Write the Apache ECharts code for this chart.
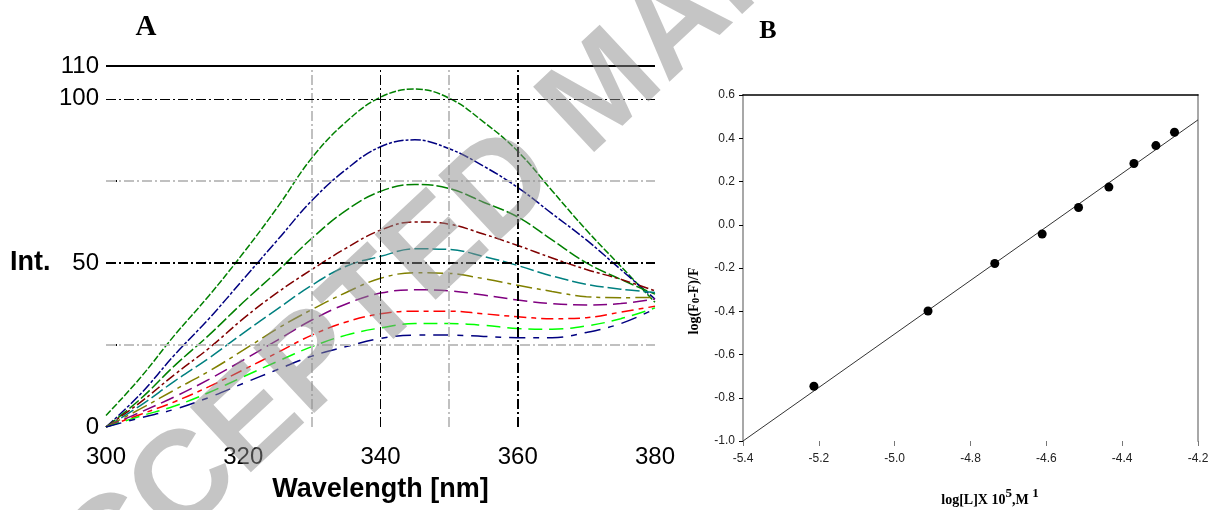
<!DOCTYPE html>
<html><head><meta charset="utf-8">
<script src="https://cdn.jsdelivr.net/npm/echarts@6/dist/echarts.min.js"></script>
<style>html,body{margin:0;padding:0;background:#fff}#c{width:1221px;height:510px}</style>
</head><body><div id="c"></div><script>
// ---- Panel A data: emission spectra ----
const wavelengths = [300,305,310,315,320,325,330,335,340,345,350,355,360,365,370,375,380];
const spec1  = [3.5,15,28,40,53,67,82,93,100.5,103,100.2,93,84,72,60,49,38];
const spec2  = [0,10,22,33,45,57,69,78.5,85.4,87.5,84.8,79.5,73,65,57,48,39];
const spec3  = [0,8.5,18.7,28,38,47.5,57.5,66,71.8,73.9,72.7,68.5,64,57,50,45,40.5];
const spec4  = [0,7.5,16,24,33,41,48,54.5,60,62.5,61.8,58.8,55.3,51.5,48,45,41.5];
const spec5  = [0,6.5,14,21,28.6,36,43.2,49,52,54.3,54.1,52,49.2,46,43.5,42,41];
const spec6  = [0,5.5,11.3,17,23.4,30,35.8,41,45.3,47,46.8,45.2,43.2,41.3,39.7,39.4,39.5];
const spec7  = [0,4.5,9.2,14.5,20.4,26.5,32.6,37.5,40.8,41.8,41.5,40.2,38.7,37.6,37.2,37.6,39];
const spec8  = [0,3.8,7.7,12.3,17.4,22.7,28,32,34.5,35.3,35.3,34.5,33.6,33,33.3,35,36.8];
const spec9  = [0,3.3,6.4,10.5,15.3,20,24.5,28,30.2,31.5,31.5,31,30,29.8,30.8,33,36.3];
const spec10 = [0,2.8,5.4,9,13.3,17.5,21.6,24.5,27,28,28,27.6,27.2,27.2,28.8,31.5,36];
const spectra = [spec1,spec2,spec3,spec4,spec5,spec6,spec7,spec8,spec9,spec10];
const specColors = ['#008000','#000080','#008000','#800000','#008080','#808000','#800080','#ff0000','#00ff00','#000080'];
const specDash = [[7,2],[10,2,3,2],[12,3],[10,3,3,3],[14,4],[16,5,4,5],[14,6],[12,5,5,5],[14,7],[16,8,6,8]];
const xLabelsA = [300,320,340,360,380];
const yLabelsA = [0,50,100,110];
const xMinorTicksA = [330,350];
const yMinorTicksA = [25,75];
const vGridMajor = [340,360];
const vGridMinor = [330,350];
const hGridMajor = [100,50];
const hGridMinor = [75,25];
const topLineA = 110;

// ---- Panel B data: double log plot ----
const logL = [-5.213,-4.912,-4.736,-4.611,-4.515,-4.435,-4.369,-4.311,-4.262];
const logF = [-0.747,-0.399,-0.179,-0.043,0.080,0.174,0.283,0.366,0.428];
const fitX = [-5.4,-4.2];
const fitY = [-1.0,0.485];

const chart = echarts.init(document.getElementById('c'));
const sans = 'Liberation Sans, Arial, sans-serif';
const serif = 'Liberation Serif, Times New Roman, serif';

const gridLineData = [];
vGridMajor.forEach((v,i)=>gridLineData.push({xAxis:v, lineStyle:{color:'#000', width:i===1?2:1, type:[10,3,2,3]}}));
vGridMinor.forEach(v=>gridLineData.push({xAxis:v, lineStyle:{color:'#c0c0c0', width:2, type:[10,3,2,3]}}));
hGridMajor.forEach((v,i)=>gridLineData.push({yAxis:v, lineStyle:{color:'#000', width:i===1?2:1, type:[10,3,2,3]}}));
hGridMinor.forEach(v=>gridLineData.push({yAxis:v, lineStyle:{color:'#c0c0c0', width:2, type:[10,3,2,3]}}));
gridLineData.push({yAxis:topLineA, lineStyle:{color:'#000', width:2, type:'solid'}});

const series = [{
  type:'line', xAxisIndex:0, yAxisIndex:0, data:[], z:1, silent:true,
  markLine:{silent:true, symbol:['none','none'], label:{show:false}, animation:false, data:gridLineData}
}];
spectra.forEach((s,k)=>{
  series.push({
    type:'line', xAxisIndex:0, yAxisIndex:0, z:3, smooth:0.4, showSymbol:false,
    data: wavelengths.map((w,i)=>[w,s[i]]),
    lineStyle:{color:specColors[k], width:1.5, type:specDash[k]}
  });
});
series.push({
  type:'line', xAxisIndex:1, yAxisIndex:1, showSymbol:false, z:2,
  data: fitX.map((x,i)=>[x,fitY[i]]),
  lineStyle:{color:'#333', width:1}
});
series.push({
  type:'scatter', xAxisIndex:1, yAxisIndex:1, symbolSize:9, z:3,
  data: logL.map((x,i)=>[x,logF[i]]),
  itemStyle:{color:'#000', opacity:1}
});

chart.setOption({
  animation:false,
  backgroundColor:'#fff',
  grid:[
    {left:106, right:566, top:66, bottom:83},
    {left:743, right:23, top:95, bottom:69}
  ],
  xAxis:[
    {gridIndex:0, type:'value', min:300, max:380, interval:10,
     axisLine:{show:false},
     axisTick:{show:true, inside:true, length:10, customValues:xMinorTicksA, lineStyle:{color:'#000', width:2}},
     axisLabel:{customValues:xLabelsA, fontSize:24, color:'#000', fontFamily:sans, margin:18},
     splitLine:{show:false},
     name:'Wavelength [nm]', nameLocation:'middle', nameGap:49,
     nameTextStyle:{fontSize:27, fontWeight:'bold', color:'#000', fontFamily:sans}},
    {gridIndex:1, type:'value', min:-5.4, max:-4.2, interval:0.2,
     axisLine:{show:false, onZero:false},
     axisTick:{show:true, length:5, lineStyle:{color:'#777'}},
     axisLabel:{fontSize:12, color:'#222', fontFamily:sans, margin:12, formatter:v=>v.toFixed(1)},
     splitLine:{show:false}},
    {gridIndex:1, type:'value', min:-5.4, max:-4.2, position:'top',
     axisLine:{show:true, onZero:false, lineStyle:{color:'#000', width:1.5}},
     axisTick:{show:false}, axisLabel:{show:false}, splitLine:{show:false}}
  ],
  yAxis:[
    {gridIndex:0, type:'value', min:0, max:110, interval:10,
     axisLine:{show:false},
     axisTick:{show:true, inside:true, length:11, customValues:yMinorTicksA, lineStyle:{color:'#000', width:2}},
     axisLabel:{customValues:yLabelsA, fontSize:24, color:'#000', fontFamily:sans, margin:7},
     splitLine:{show:false}},
    {gridIndex:1, type:'value', min:-1.0, max:0.6, interval:0.2,
     axisLine:{show:true, onZero:false, lineStyle:{color:'#a8a8a8', width:2}},
     axisTick:{show:true, length:4, lineStyle:{color:'#000'}},
     axisLabel:{fontSize:12, color:'#222', fontFamily:sans, margin:8, formatter:v=>v.toFixed(1)},
     splitLine:{show:false}},
    {gridIndex:1, type:'value', min:-1.0, max:0.6, position:'right',
     axisLine:{show:true, onZero:false, lineStyle:{color:'#a8a8a8', width:2}},
     axisTick:{show:false}, axisLabel:{show:false}, splitLine:{show:false}}
  ],
  graphic:[
    {type:'text', x:146, y:28, z:50, style:{text:'A', font:'bold 29px '+serif, fill:'#000', textAlign:'center', textVerticalAlign:'middle'}},
    {type:'text', x:768, y:31, z:50, style:{text:'B', font:'bold 26px '+serif, fill:'#000', textAlign:'center', textVerticalAlign:'middle'}},
    {type:'text', x:10, y:263, z:50, style:{text:'Int.', font:'bold 27px '+sans, fill:'#000', textAlign:'left', textVerticalAlign:'middle'}},
    {type:'text', x:990, y:497, z:50,
     style:{text:'{a|log[L]X 10}{s|5}{a|,M }{s|1}', textAlign:'center', textVerticalAlign:'middle',
       rich:{a:{font:'bold 14px '+serif, fill:'#000', verticalAlign:'bottom'}, s:{font:'bold 13px '+serif, fill:'#000', verticalAlign:'bottom', padding:[0,0,7,0]}}}},
    {type:'text', x:694, y:301, rotation:Math.PI/2, z:50,
     style:{text:'{a|log(F}{s|0}{a|-F)/F}', textAlign:'center', textVerticalAlign:'middle',
       rich:{a:{font:'bold 14px '+serif, fill:'#000', verticalAlign:'bottom'}, s:{font:'bold 11px '+serif, fill:'#000', verticalAlign:'bottom', padding:[4,0,0,0]}}}},
    {type:'text', x:14, y:644, rotation:43*Math.PI/180, z:100, silent:true,
     style:{text:'ACCEPTED MANUSCRIPT', font:'bold 130px '+sans, fill:'rgba(140,140,140,0.5)', textAlign:'left', textVerticalAlign:'middle'}}
  ],
  series:series
});
</script></body></html>
